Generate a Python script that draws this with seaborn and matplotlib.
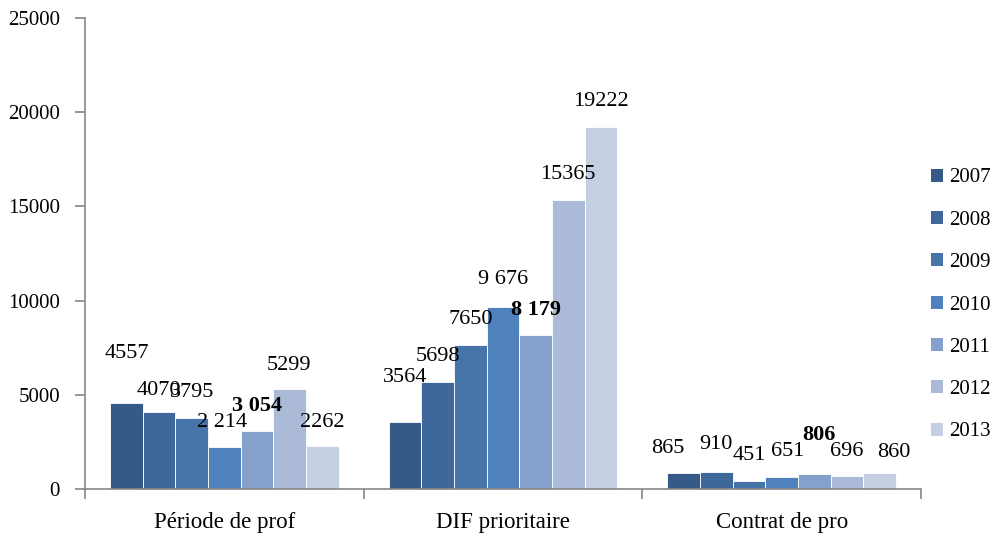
import pandas as pd
import seaborn as sns
import matplotlib.pyplot as plt
from matplotlib.patches import Patch

# data
categories = ['Période de prof', 'DIF prioritaire', 'Contrat de pro']
years = ['2007', '2008', '2009', '2010', '2011', '2012', '2013']
periode_prof = [4557, 4070, 3795, 2214, 3054, 5299, 2262]
dif_prioritaire = [3564, 5698, 7650, 9676, 8179, 15365, 19222]
contrat_pro = [865, 910, 451, 651, 806, 696, 860]

# data labels as printed in the original (some have a space separator / bold)
label_text = [
    ['4557', '4070', '3795', '2 214', '3 054', '5299', '2262'],
    ['3564', '5698', '7650', '9 676', '8 179', '15365', '19222'],
    ['865', '910', '451', '651', '806', '696', '860'],
]
label_bold = [
    [0, 0, 0, 0, 1, 0, 0],
    [0, 0, 0, 0, 1, 0, 0],
    [0, 0, 0, 0, 1, 0, 0],
]

palette = ['#355a87', '#3e6899', '#4774a9', '#4f81bd', '#84a0cb', '#aabad7', '#c4cfe1']

# label offsets (pixels) relative to the top-centre of each bar
label_dx = [
    [0, 0, 0, -2, 0, -1, 0],
    [0, 0, 0, 0, 0, 0, 0],
    [-16, 0, 0, 6, 5, 0, 14],
]
label_dy = [
    [50, 22, 25, 25, 25, 24, 24],
    [44, 25, 25, 27, 25, 25, 25],
    [24, 27, 25, 25, 39, 24, 20],
]

values = [periode_prof, dif_prioritaire, contrat_pro]
rows = []
for cat, vals in zip(categories, values):
    for yr, v in zip(years, vals):
        rows.append({'categorie': cat, 'annee': yr, 'valeur': v})
df = pd.DataFrame(rows)

sns.set_style('white')
plt.rcParams['font.family'] = ['Liberation Serif', 'DejaVu Serif']
plt.rcParams['font.size'] = 15
plt.rcParams['text.color'] = 'black'
plt.rcParams['xtick.labelcolor'] = 'black'
plt.rcParams['ytick.labelcolor'] = 'black'

fig = plt.figure(figsize=(9.95, 5.33), dpi=100)
ax = fig.add_axes([85 / 995, 44 / 533, 836 / 995, 471 / 533])

sns.barplot(data=df, x='categorie', y='valeur', hue='annee', order=categories,
            hue_order=years, palette=palette, width=0.82, gap=0,
            edgecolor='white', linewidth=0.6, saturation=1, legend=False, ax=ax)

# data labels: one container per year, one bar per category
for h, cont in enumerate(ax.containers):
    for c, bar in enumerate(cont):
        x = bar.get_x() + bar.get_width() / 2
        y = bar.get_height()
        ax.annotate(label_text[c][h], (x, y),
                    xytext=(label_dx[c][h], label_dy[c][h]),
                    textcoords='offset pixels', ha='center', va='center',
                    fontsize=16, color='black',
                    fontweight='bold' if label_bold[c][h] else 'normal')

ax.set_xlim(-0.5, 2.5)
ax.set_ylim(0, 25000)
ax.set_yticks(range(0, 25001, 5000))
ax.set_xlabel('')
ax.set_ylabel('')

for side in ['top', 'right']:
    ax.spines[side].set_visible(False)
for side in ['left', 'bottom']:
    ax.spines[side].set_color('#868686')
    ax.spines[side].set_linewidth(1.2)

ax.tick_params(axis='y', which='major', left=True, length=7, color='#868686',
               width=1.2, pad=11, labelsize=15, labelcolor='black')
ax.set_xticks([-0.5, 0.5, 1.5, 2.5], minor=True)
ax.tick_params(axis='x', which='minor', bottom=True, length=7, color='#868686', width=1.2)
ax.tick_params(axis='x', which='major', bottom=False, pad=13, labelsize=16.5,
               labelcolor='black')

handles = [Patch(facecolor=col, edgecolor='none') for col in palette]
fig.legend(handles, years, loc='center left', bbox_to_anchor=(931 / 995, (533 - 305) / 533),
           frameon=False, fontsize=15, handlelength=0.6, handleheight=0.6,
           handletextpad=0.25, labelspacing=1.12, borderpad=0, borderaxespad=0,
           labelcolor='black')

fig.savefig('out.png', dpi=100)
